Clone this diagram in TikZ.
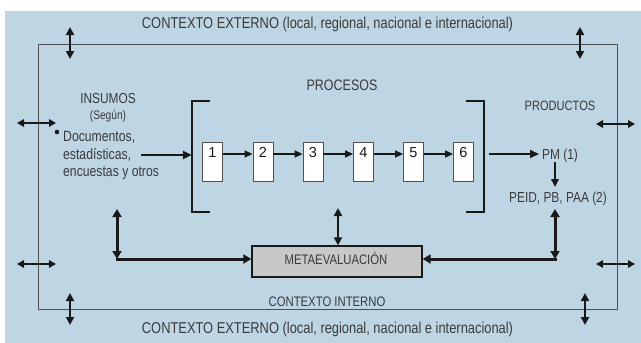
\documentclass[tikz,border=0pt]{standalone}
\usepackage{fontspec}
\setmainfont{Liberation Sans}[FakeStretch=0.82]
\newfontfamily\numfont{Liberation Sans}
\usetikzlibrary{arrows.meta}
\definecolor{bgblue}{RGB}{190,214,228}
\definecolor{txtc}{RGB}{58,58,58}
\definecolor{lnc}{RGB}{25,25,25}
\definecolor{framec}{RGB}{80,80,80}
\definecolor{metafill}{RGB}{200,200,200}
\newcommand{\fsz}[1]{\fontsize{#1}{#1}\selectfont}
\begin{document}
\begin{tikzpicture}[x=1pt,y=-1pt,
  lbl/.style={text=txtc, inner sep=0pt, anchor=base},
  vdbl/.style={lnc, line width=2.4pt, {Triangle[length=8pt,width=8pt]}-{Triangle[length=8pt,width=8pt]}},
  hdbl/.style={lnc, line width=1.5pt, {Triangle[length=7pt,width=7.5pt]}-{Triangle[length=7pt,width=7.5pt]}},
  stepbox/.style={draw=framec, fill=white, line width=0.8pt, minimum width=20pt, minimum height=39pt, inner sep=0pt},
  num/.style={text=lnc, inner sep=0pt, anchor=base, font=\numfont\fsz{14.5}},
  small/.style={lnc, line width=1.4pt, -{Triangle[length=8pt,width=7pt]}},
  thick/.style={lnc, line width=2.6pt, -{Triangle[length=9pt,width=8pt]}},
  conn/.style={lnc, line width=3pt},
  bracket/.style={lnc, line width=2pt},
]
\useasboundingbox (0,0) rectangle (641,343);
\fill[bgblue] (5,11) rectangle (641,343);
% internal context frame
\node (inner) [draw=framec, line width=0.9pt, minimum width=579pt, minimum height=265pt, inner sep=0pt] at (327.5,176.5) {};

% texts
\node (ext1) [lbl, font=\fsz{15.7}] at (327.5,28.3) {CONTEXTO EXTERNO (local, regional, nacional e internacional)};
\node (ext2) [lbl, font=\fsz{15.7}] at (327.5,333.5) {CONTEXTO EXTERNO (local, regional, nacional e internacional)};
\node (int) [lbl, font=\fsz{13.8}] at (327,306) {CONTEXTO INTERNO};
\node (procesos) [lbl, font=\fsz{15.2}] at (342,90.5) {PROCESOS};
\node (insumos) [lbl, font=\fsz{14.5}] at (108,103.5) {INSUMOS};
\node (segun) [lbl, font=\fsz{12.4}] at (108,119.5) {(Según)};
\node (productos) [lbl, font=\fsz{13.5}] at (560,110) {PRODUCTOS};
\node (doc1) [lbl, anchor=base west, font=\fsz{14.9}] at (63,141.5) {Documentos,};
\node (doc2) [lbl, anchor=base west, font=\fsz{14.9}] at (63,159.5) {estadísticas,};
\node (doc3) [lbl, anchor=base west, font=\fsz{14.9}] at (63,176.5) {encuestas y otros};
\fill[lnc] (57,132) circle (2.3pt);
\node (pm) [lbl, anchor=base west, font=\fsz{14.5}] at (542,159) {PM (1)};
\node (peid) [lbl, font=\fsz{14.5}] at (558,202) {PEID, PB, PAA (2)};

% process block with brackets
\node (proc) [minimum width=292pt, minimum height=111pt, inner sep=0pt] at (338,156.5) {};
\draw[bracket] ([xshift=18pt]proc.north west) -- (proc.north west) -- (proc.south west) -- ([xshift=18pt]proc.south west);
\draw[bracket] ([xshift=-18pt]proc.north east) -- (proc.north east) -- (proc.south east) -- ([xshift=-18pt]proc.south east);

% step boxes
\foreach \i/\x in {1/212.5,2/263,3/313,4/363.5,5/413.5,6/463.5}{
  \node (b\i) [stepbox] at (\x,161.5) {};
  \node (n\i) [num] at (\x,157.5) {\i};
}
\foreach \i/\j in {1/2,2/3,3/4,4/5,5/6}{
  \draw[small] (b\i.east |- 0,154) -- (b\j.west |- 0,154);
}

% input / output arrows
\coordinate (inA) at (141,155);
\draw[thick] (inA) -- (proc.west |- inA);
\coordinate (outA) at (489,154);
\draw[thick, line width=2.2pt] (outA) -- ([xshift=-3pt]pm.west |- outA);
\draw[lnc, line width=1.8pt, -{Triangle[length=8pt,width=7.5pt]}] (555,162) -- (555,187);

% metaevaluacion
\node (meta) [draw=lnc, fill=metafill, line width=1.3pt, minimum width=170pt, minimum height=31pt, inner sep=0pt] at (337,261.5) {};
\node (metat) [lbl, font=\fsz{13.8}] at (336,264.5) {METAEVALUACIÓN};

% connectors to metaevaluacion
\coordinate (lt) at (117,209);
\coordinate (lc) at (117,259);
\coordinate (rt) at (555,209);
\coordinate (rc) at (555,259);
\draw[conn, {Triangle[length=8pt,width=9pt]}-{Triangle[length=8pt,width=9pt]}] (lt) -- (lc);
\draw[conn, -{Triangle[length=8pt,width=9pt]}] ([xshift=-1.5pt]lc) -- (meta.west |- lc);
\draw[conn, {Triangle[length=8pt,width=9pt]}-{Triangle[length=8pt,width=9pt]}] (rt) -- (rc);
\draw[conn, -{Triangle[length=8pt,width=9pt]}] ([xshift=1.5pt]rc) -- (meta.east |- rc);
\coordinate (mt) at (338,208);
\draw[lnc, line width=2pt, {Triangle[length=8pt,width=8pt]}-{Triangle[length=8pt,width=8pt]}] (mt) -- (meta.north -| mt);

% context exchange arrows
\coordinate (u1a) at (70,27);  \coordinate (u1b) at (70,59);
\coordinate (u2a) at (580,27); \coordinate (u2b) at (580,59);
\coordinate (d1a) at (70,293); \coordinate (d1b) at (70,325);
\coordinate (d2a) at (585,293); \coordinate (d2b) at (585,325);
\draw[vdbl] (u1a) -- (u1b);
\draw[vdbl] (u2a) -- (u2b);
\draw[vdbl] (d1a) -- (d1b);
\draw[vdbl] (d2a) -- (d2b);
\coordinate (l1a) at (17,123);  \coordinate (l1b) at (56,123);
\coordinate (r1a) at (596,124); \coordinate (r1b) at (635,124);
\coordinate (l2a) at (17,264);  \coordinate (l2b) at (56,264);
\coordinate (r2a) at (596,264); \coordinate (r2b) at (635,264);
\draw[hdbl] (l1a) -- (l1b);
\draw[hdbl] (r1a) -- (r1b);
\draw[hdbl] (l2a) -- (l2b);
\draw[hdbl] (r2a) -- (r2b);
\end{tikzpicture}
\end{document}
